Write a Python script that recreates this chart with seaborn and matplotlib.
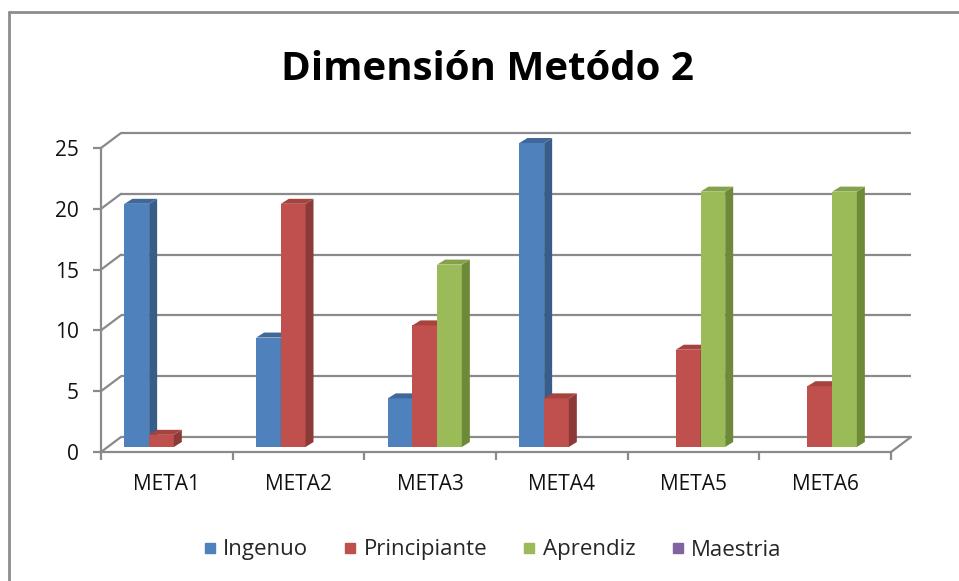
import numpy as np
import pandas as pd
import seaborn as sns
import matplotlib.pyplot as plt
from matplotlib.patches import Polygon
from matplotlib.lines import Line2D
from matplotlib.colors import to_hex

metas = ['META1', 'META2', 'META3', 'META4', 'META5', 'META6']
niveles = ['Ingenuo', 'Principiante', 'Aprendiz', 'Maestria']
ingenuo = [20, 9, 4, 25, 0, 0]
principiante = [1, 20, 10, 4, 8, 5]
aprendiz = [0, 0, 15, 0, 21, 21]
maestria = [0, 0, 0, 0, 0, 0]

colores = ['#4F81BD', '#C0504D', '#9BBB59', '#8064A2']
laterales = ['#385D8A', '#8C3A38', '#6E8A38', '#5C4776']
superiores = ['#3F6898', '#A5433F', '#84A24A', '#6E5590']

df = pd.DataFrame({
    'meta': metas * 4,
    'nivel': [n for n in niveles for _ in metas],
    'valor': ingenuo + principiante + aprendiz + maestria,
})

sns.set_style('white')
plt.rcParams['font.family'] = ['Open Sans', 'DejaVu Sans']

W, H = 959, 581
fig = plt.figure(figsize=(W / 100, H / 100), dpi=100)
# front frame of the 3D box, in pixels
x0, x1, y0, y1 = 101, 891, 452, 148
ax = fig.add_axes([x0 / W, 1 - y0 / H, (x1 - x0) / W, (y0 - y1) / H])
ppx = (x1 - x0) / 6
ppy = (y0 - y1) / 25

sns.barplot(data=df, x='meta', y='valor', hue='nivel', palette=colores,
            hue_order=niveles, width=0.75, saturation=1, linewidth=0,
            legend=False, ax=ax)
ax.set_xlim(-0.5, 5.5)
ax.set_ylim(0, 25)
ax.set_xlabel('')
ax.set_ylabel('')

gris = '#8a8a8a'
# back wall, offset in pixels
bdx, bdy = 20 / ppx, 15 / ppy
for t in range(0, 26, 5):
    ax.plot([-0.5 + bdx, 5.5 + bdx], [t + bdy, t + bdy], color=gris, lw=1.6,
            zorder=1, clip_on=False, solid_capstyle='butt')
    ax.plot([-0.5, -0.5 + bdx], [t, t + bdy], color=gris, lw=1.6,
            zorder=1, clip_on=False)
ax.plot([5.5, 5.5 + bdx], [0, bdy], color=gris, lw=1.6, zorder=1, clip_on=False)

# 3D look for the bars
sx, sy = 7 / ppx, 5 / ppy
dx, dy = 8 / ppx, 5 / ppy
barras = [p for p in ax.patches if p.get_height() > 0]
barras.sort(key=lambda p: p.get_x())
hexes = [to_hex(c) for c in colores]
for i, p in enumerate(barras):
    k = hexes.index(to_hex(p.get_facecolor()))
    z = 3 + i * 0.1
    p.set_x(p.get_x() + sx)
    p.set_y(sy)
    p.set_zorder(z)
    p.set_clip_on(False)
    x, w, h = p.get_x(), p.get_width(), p.get_height()
    lado = Polygon([(x + w, sy), (x + w + dx, sy + dy), (x + w + dx, sy + h + dy), (x + w, sy + h)],
                   closed=True, facecolor=laterales[k], lw=0, zorder=z, clip_on=False)
    tapa = Polygon([(x, sy + h), (x + dx, sy + h + dy), (x + w + dx, sy + h + dy), (x + w, sy + h)],
                   closed=True, facecolor=superiores[k], lw=0, zorder=z, clip_on=False)
    ax.add_patch(lado)
    ax.add_patch(tapa)

sns.despine(ax=ax, top=True, right=True)
for s in ['left', 'bottom']:
    ax.spines[s].set_color(gris)
    ax.spines[s].set_linewidth(1.6)
    ax.spines[s].set_zorder(2)

ax.set_yticks(range(0, 26, 5))
ax.tick_params(axis='y', length=5.8, width=1.6, color=gris, pad=10,
               labelsize=15, labelcolor='#111111', left=True)
ax.set_xticks(range(6))
ax.set_xticklabels(metas)
ax.set_xticks(np.arange(-0.5, 6, 1), minor=True)
ax.tick_params(axis='x', which='major', length=0, pad=16, labelsize=15,
               labelcolor='#111111')
ax.tick_params(axis='x', which='minor', length=6, width=1.6, color=gris,
               bottom=True)

fig.text(0.508, 1 - 80 / H, 'Dimensión Metódo 2', ha='center', va='baseline',
         fontsize=29, fontweight='bold', color='#000000')

handles = [Line2D([], [], marker='s', ls='', color=c, markersize=7.5) for c in colores]
fig.legend(handles, niveles, loc='center', bbox_to_anchor=(0.512, 1 - 550 / H),
           ncol=4, frameon=False, fontsize=16, handletextpad=0.2,
           columnspacing=1.5, handlelength=0.8)

# chart border (top and left visible)
fig.add_artist(Line2D([9 / W, 1], [1 - 12 / H, 1 - 12 / H], transform=fig.transFigure,
                      color='#8d8d8d', lw=2))
fig.add_artist(Line2D([9 / W, 9 / W], [0, 1 - 12 / H], transform=fig.transFigure,
                      color='#8d8d8d', lw=2))

fig.savefig('out.png', dpi=100)
